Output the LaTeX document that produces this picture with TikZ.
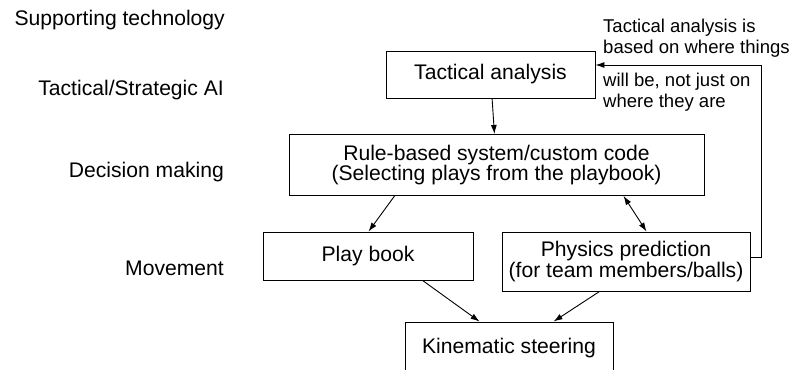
\documentclass[tikz,border=0pt]{standalone}
\usepackage{fontspec}
\setmainfont{Liberation Sans}
\usepackage{tikz}
\usetikzlibrary{arrows.meta,positioning,calc}
\newcommand{\diagfont}{\fontsize{21.2pt}{20.2pt}\selectfont}
\newcommand{\notefont}{\fontsize{18.6pt}{20.6pt}\selectfont}
\tikzset{
  box/.style={draw,line width=0.9bp,inner sep=0pt,align=center,font=\diagfont},
  lvl/.style={inner sep=0pt,anchor=base east,font=\diagfont},
  note/.style={inner sep=0pt,anchor=base west,align=left,font=\notefont},
  arr/.style={-{Latex[length=9bp,width=6bp]},line width=0.9bp},
  darr/.style={{Latex[length=9bp,width=6bp]}-{Latex[length=9bp,width=6bp]},line width=0.9bp},
}
\begin{document}
\begin{tikzpicture}[x=1bp,y=-1bp]
\useasboundingbox (0,0) rectangle (792,369);
% level labels
\node[lvl] (lsup) at (225,25) {Supporting technology};
\node[lvl] (ltac) at (224,95) {Tactical/Strategic AI};
\node[lvl] (ldec) at (224,177) {Decision making};
\node[lvl] (lmov) at (224,275) {Movement};
% boxes
\node[box,minimum width=209bp,minimum height=47bp] (ta) at (490.5,74.5) {Tactical analysis};
\node[box,minimum width=415bp,minimum height=61bp] (rb) at (496.5,165) {Rule-based system/custom code\\(Selecting plays from the playbook)};
\node[box,minimum width=210bp,minimum height=48bp] (pb) at (368,256) {Play book};
\node[box,minimum width=248bp,minimum height=59bp] (pp) at (626,261.5) {Physics prediction\\(for team members/balls)};
\node[box,minimum width=208bp,minimum height=52bp] (ks) at (509,348) {Kinematic steering};
% notes (base = last line)
\node[note] (n1) at (603,53) {Tactical analysis is\\based on where things};
\node[note] (n2) at (603,107) {will be, not just on\\where they are};
% connectors
\coordinate (rt) at (761,65);
\draw[arr] (ta) -- (rb);
\draw[arr] ($(rb.south west)+(106,0)$) -- ($(pb.north west)+(106,0)$);
\draw[darr] ($(rb.south west)+(335,0)$) -- ($(pp.north west)+(145,0)$);
\draw[arr] ($(pb.south west)+(160,0)$) -- ($(ks.north west)+(75,0)$);
\draw[arr] ($(pp.south west)+(98,0)$) -- ($(ks.north west)+(149,0)$);
\draw[arr] ([yshift=4.5bp]pp.east) -| (rt) -- (ta.east |- rt);
\end{tikzpicture}
\end{document}
